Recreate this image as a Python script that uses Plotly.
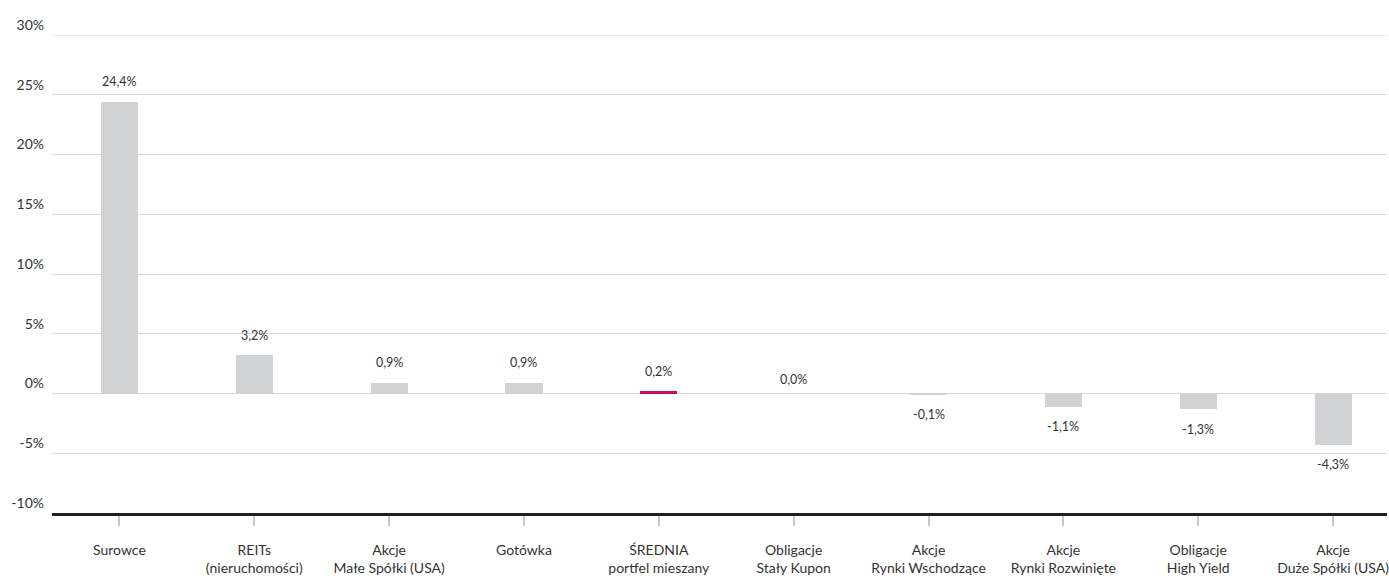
import plotly.graph_objects as go

categories = [
    "Surowce",
    "REITs<br>(nieruchomości)",
    "Akcje<br>Małe Spółki (USA)",
    "Gotówka",
    "ŚREDNIA<br>portfel mieszany",
    "Obligacje<br>Stały Kupon",
    "Akcje<br>Rynki Wschodzące",
    "Akcje<br>Rynki Rozwinięte",
    "Obligacje<br>High Yield",
    "Akcje<br>Duże Spółki (USA)",
]
values = [24.4, 3.2, 0.9, 0.9, 0.2, 0.0, -0.1, -1.1, -1.3, -4.3]
highlight = "ŚREDNIA<br>portfel mieszany"

y_ticks = [-10, -5, 0, 5, 10, 15, 20, 25, 30]
y_tick_labels = [f"{v}%" for v in y_ticks]

FONT = "Lato, 'Open Sans', sans-serif"
TEXT = "#333333"
BAR = "#d1d2d4"
ACCENT = "#c8105a"
GRID = "#d6d6d6"

colors = [ACCENT if c == highlight else BAR for c in categories]
xs = list(range(len(categories)))

fig = go.Figure()
fig.add_trace(go.Bar(
    x=xs,
    y=values,
    width=0.275,
    marker=dict(color=colors, line=dict(width=0)),
    hoverinfo="skip",
))

# value labels sit a fixed distance above / below each bar end
for x, v in zip(xs, values):
    label = f"{v:.1f}%".replace(".", ",")
    if v > 0:
        shift = 20
    elif v < 0:
        shift = -20
    else:
        shift = 14
    fig.add_annotation(
        x=x, y=v, text=label, showarrow=False,
        xanchor="center", yanchor="middle", yshift=shift,
        font=dict(family=FONT, size=12.5, color=TEXT),
    )

# top gridline at the upper edge of the value range
fig.add_shape(
    type="line", xref="paper", yref="y",
    x0=0, x1=1, y0=y_ticks[-1], y1=y_ticks[-1],
    line=dict(color=GRID, width=1.2), layer="below",
)

fig.update_layout(
    width=1389,
    height=576,
    margin=dict(l=52, r=0, t=35, b=61),
    paper_bgcolor="white",
    plot_bgcolor="white",
    showlegend=False,
    bargap=0,
    font=dict(family=FONT, color=TEXT),
)

fig.update_xaxes(
    range=[-0.5, 9.4],
    tickmode="array",
    tickvals=xs,
    ticktext=categories,
    ticks="outside",
    ticklen=10,
    tickwidth=2,
    tickcolor="#c8c8c8",
    showline=True,
    linecolor="#231f20",
    linewidth=2.5,
    showgrid=False,
    zeroline=False,
    ticklabelstandoff=12,
    ticklabeloverflow="allow",
    tickfont=dict(family=FONT, size=14, color=TEXT),
    fixedrange=True,
)

fig.update_yaxes(
    range=[-10, 30],
    tickmode="array",
    tickvals=y_ticks,
    ticktext=y_tick_labels,
    showgrid=True,
    gridcolor=GRID,
    gridwidth=1.2,
    zeroline=False,
    showline=False,
    ticks="",
    ticklabelstandoff=7,
    ticklabelshift=-10,
    tickfont=dict(family=FONT, size=14, color=TEXT),
    fixedrange=True,
)

fig.write_html("out.html")
